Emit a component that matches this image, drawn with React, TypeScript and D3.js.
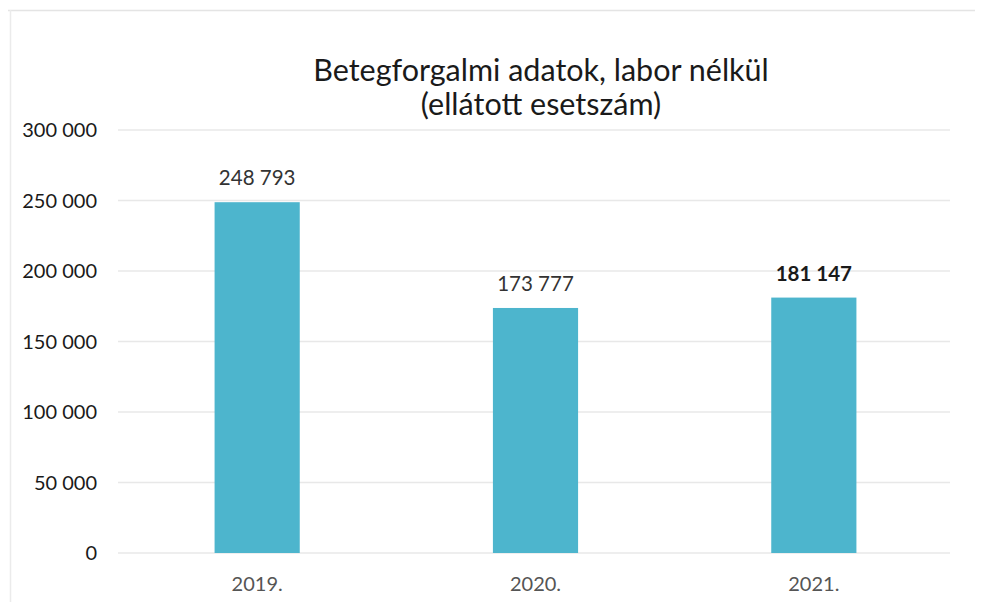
import React from "react";
import * as d3 from "d3";

const categories = ["2019.", "2020.", "2021."];
const values = [248793, 173777, 181147];
const boldLabel = [false, false, true];
const yTicks = [0, 50000, 100000, 150000, 200000, 250000, 300000];
const titleLines = ["Betegforgalmi adatok, labor nélkül", "(ellátott esetszám)"];

const W = 981;
const H = 602;
const fmt = (v: number) => d3.format(",")(v).replace(/,/g, " ");

export default function App() {
  const x = d3.scaleBand<string>().domain(categories).range([118, 953]).paddingInner(0.694).paddingOuter(0.347);
  const y = d3.scaleLinear().domain([0, 300000]).range([553, 130]);
  const font = "Lato, 'Open Sans', sans-serif";
  return (
    <svg width={W} height={H} style={{ position: "absolute", left: 0, top: 0 }} fontFamily={font}>
      <rect x={0} y={0} width={W} height={H} fill="#fff" />
      <line x1={8} x2={975} y1={10.5} y2={10.5} stroke="#e4e4e4" strokeWidth={1.5} />
      <line x1={10.5} x2={10.5} y1={10} y2={602} stroke="#ebebeb" strokeWidth={1.5} />
      {titleLines.map((t, i) => (
        <text key={i} x={541} y={81 + i * 34} textAnchor="middle" fontSize={30.5} fill="#1a1a1a">
          {t}
        </text>
      ))}
      {yTicks.map((t) => (
        <g key={t}>
          <line x1={118} x2={950} y1={y(t)} y2={y(t)} stroke="#e8e8e8" strokeWidth={1.5} />
          <text x={97} y={y(t)} dy="0.35em" textAnchor="end" fontSize={20} fill="#1a1a1a">
            {fmt(t)}
          </text>
        </g>
      ))}
      {categories.map((c, i) => (
        <g key={c}>
          <rect x={x(c)} y={y(values[i])} width={x.bandwidth()} height={y(0) - y(values[i])} fill="#4db5cd" />
          <text
            x={(x(c) as number) + x.bandwidth() / 2}
            y={y(values[i]) - 24}
            dy="0.35em"
            textAnchor="middle"
            fontSize={20.5}
            fontWeight={boldLabel[i] ? 700 : 400}
            fill={boldLabel[i] ? "#1a1a1a" : "#333"}
          >
            {fmt(values[i])}
          </text>
          <text x={(x(c) as number) + x.bandwidth() / 2} y={584} dy="0.35em" textAnchor="middle" fontSize={20} fill="#555">
            {c}
          </text>
        </g>
      ))}
    </svg>
  );
}
